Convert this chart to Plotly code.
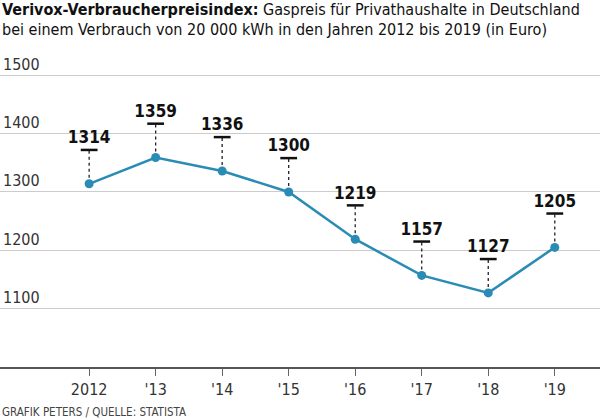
import plotly.graph_objs as go

# Gaspreis bei 20 000 kWh, Verivox-Verbraucherpreisindex
years = [2012, 2013, 2014, 2015, 2016, 2017, 2018, 2019]
year_labels = ['2012', "'13", "'14", "'15", "'16", "'17", "'18", "'19"]
prices = [1314, 1359, 1336, 1300, 1219, 1157, 1127, 1205]
y_ticks = [1100, 1200, 1300, 1400, 1500]

BLUE = '#2a8cb5'
FONT = 'DejaVu Sans Condensed, DejaVu Sans, sans-serif'
STEM = 58   # length of the dotted pin in euro units
LABEL = 19  # label sits this far above the pin

xs = list(range(len(years)))

stem_x, stem_y = [], []
for x, p in zip(xs, prices):
    stem_x += [x, x, None]
    stem_y += [p, p + STEM, None]

fig = go.Figure()

# dotted pins
fig.add_trace(go.Scatter(
    x=stem_x, y=stem_y, mode='lines',
    line=dict(color='#222', width=1.3, dash='dot'),
    hoverinfo='skip', showlegend=False
))

# small dash on top of the pin
fig.add_trace(go.Scatter(
    x=xs, y=[p + STEM for p in prices], mode='markers',
    marker=dict(symbol='line-ew', size=12, line=dict(color='#111', width=2.5)),
    hoverinfo='skip', showlegend=False
))

# value labels
fig.add_trace(go.Scatter(
    x=xs, y=[p + STEM + LABEL for p in prices], mode='text',
    text=[f'<b>{p}</b>' for p in prices],
    textposition='middle center',
    textfont=dict(family=FONT, size=17, color='#111'),
    hoverinfo='skip', showlegend=False
))

# price line
fig.add_trace(go.Scatter(
    x=xs, y=prices, mode='lines+markers',
    line=dict(color=BLUE, width=2.5),
    marker=dict(color=BLUE, size=9),
    showlegend=False
))

fig.update_layout(
    width=600, height=420,
    margin=dict(l=0, r=0, t=49, b=53),
    paper_bgcolor='white', plot_bgcolor='white',
    font=dict(family=FONT, color='#333'),
    xaxis=dict(
        range=[-1.34, 7.68],
        tickvals=xs, ticktext=year_labels,
        ticks='outside', ticklen=7, tickcolor='#666', tickwidth=1,
        tickfont=dict(size=16, color='#333'),
        showgrid=False, zeroline=False, automargin=False,
        showline=True, linecolor='#555', linewidth=1.5
    ),
    yaxis=dict(
        range=[1000, 1545],
        tickvals=y_ticks,
        ticklabelposition='inside top',
        tickfont=dict(size=16, color='#333'),
        showgrid=True, gridcolor='#cccccc', gridwidth=1.2,
        zeroline=False, showline=False, ticks='', automargin=False
    ),
    annotations=[
        dict(text='<b>Verivox-Verbraucherpreisindex:</b> Gaspreis für Privathaushalte in Deutschland',
             x=0, xref='paper', xanchor='left', y=1.123, yref='paper', yanchor='middle',
             showarrow=False, font=dict(family=FONT, size=16, color='#111')),
        dict(text='bei einem Verbrauch von 20 000 kWh in den Jahren 2012 bis 2019 (in Euro)',
             x=0, xref='paper', xanchor='left', y=1.060, yref='paper', yanchor='middle',
             showarrow=False, font=dict(family=FONT, size=16, color='#111')),
        dict(text='GRAFIK PETERS / QUELLE: STATISTA',
             x=0, xref='paper', xanchor='left', y=-0.1415, yref='paper', yanchor='middle',
             showarrow=False, font=dict(family=FONT, size=11.5, color='#444')),
    ]
)

# page body has a default 8px margin; drop it so the chart fills the window
fig.write_html('out.html', config={'displayModeBar': False},
               post_script="document.body.style.margin='0';")
